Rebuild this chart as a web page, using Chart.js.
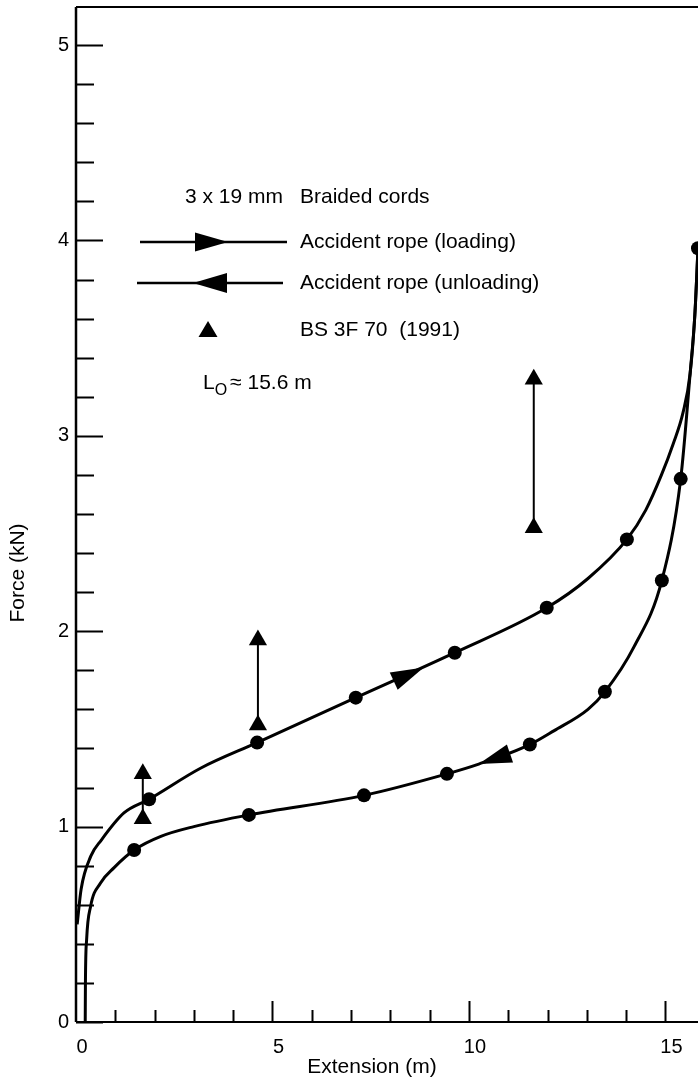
<!DOCTYPE html>
<html>
<head>
<meta charset="utf-8">
<script src="https://cdn.jsdelivr.net/npm/chart.js@4.4.1/dist/chart.umd.min.js"></script>
<style>
html, body { margin: 0; padding: 0; background: #fff; }
canvas { display: block; }
</style>
</head>
<body>
<canvas id="chart" width="698" height="1079"></canvas>
<script>
// Accident rope, 3 x 19 mm braided cords: force vs extension

// Loading curve (traced path) and measured points
const loadingCurveX = [0.03, 0.13, 0.38, 0.64, 1.22, 1.86, 3.18, 4.61, 7.12, 9.64, 11.98, 13.03, 14.02, 14.5, 14.9, 15.2, 15.45, 15.63, 15.75, 15.83];
const loadingCurveY = [0.50, 0.68, 0.85, 0.93, 1.07, 1.14, 1.30, 1.43, 1.66, 1.89, 2.12, 2.27, 2.47, 2.62, 2.80, 2.96, 3.12, 3.32, 3.62, 3.96];
const loadingPointsX = [1.86, 4.61, 7.12, 9.64, 11.98, 14.02, 15.83];
const loadingPointsY = [1.14, 1.43, 1.66, 1.89, 2.12, 2.47, 3.96];

// Unloading curve (traced path) and measured points
const unloadingCurveX = [0.235, 0.24, 0.27, 0.37, 0.62, 0.97, 1.48, 2.16, 3.0, 4.40, 7.33, 9.44, 10.25, 11.55, 12.16, 13.03, 13.46, 14.2, 14.91, 15.39, 15.63, 15.75, 15.83];
const unloadingCurveY = [0.0, 0.20, 0.42, 0.59, 0.71, 0.79, 0.88, 0.95, 1.0, 1.06, 1.16, 1.27, 1.32, 1.42, 1.49, 1.60, 1.69, 1.92, 2.26, 2.78, 3.32, 3.62, 3.96];
const unloadingPointsX = [1.48, 4.40, 7.33, 9.44, 11.55, 13.46, 14.91, 15.39];
const unloadingPointsY = [0.88, 1.06, 1.16, 1.27, 1.42, 1.69, 2.26, 2.78];

// BS 3F 70 (1991) ranges
const bsX = [1.70, 4.63, 11.65];
const bsLow = [1.04, 1.52, 2.53];
const bsHigh = [1.27, 1.955, 3.29];

// direction arrows on the curves: [tail, tip]
const loadingArrowX = [8.09, 8.85];
const loadingArrowY = [1.745, 1.815];
const unloadingArrowX = [11.05, 10.25];
const unloadingArrowY = [1.375, 1.32];

const xTickLabels = [0, 5, 10, 15];
const yTickLabels = [0, 1, 2, 3, 4, 5];

const FONT = "'Liberation Sans', Arial, sans-serif";
Chart.defaults.font.family = FONT;
Chart.defaults.color = '#000';

function toXY(xs, ys) {
    return xs.map((x, i) => ({ x: x, y: ys[i] }));
}

const bsDatasets = bsX.map((x, i) => ({
    type: 'line',
    data: [{ x: x, y: bsLow[i] }, { x: x, y: bsHigh[i] }],
    borderColor: '#000',
    borderWidth: 2,
    pointRadius: 0,
    tension: 0
}));

function drawArrow(ctx, x1, y1, x2, y2, len, half) {
    const a = Math.atan2(y2 - y1, x2 - x1);
    const bx = x2 - Math.cos(a) * len, by = y2 - Math.sin(a) * len;
    ctx.beginPath();
    ctx.moveTo(x2, y2);
    ctx.lineTo(bx - Math.sin(a) * half, by + Math.cos(a) * half);
    ctx.lineTo(bx + Math.sin(a) * half, by - Math.cos(a) * half);
    ctx.closePath();
    ctx.fill();
}

const decor = {
    id: 'decor',
    afterDraw(chart) {
        const ctx = chart.ctx;
        const xs = chart.scales.x, ys = chart.scales.y;
        const area = chart.chartArea;
        ctx.save();
        ctx.fillStyle = '#000';
        ctx.strokeStyle = '#000';

        // axes + top frame
        ctx.lineWidth = 2.5;
        ctx.beginPath();
        ctx.moveTo(area.left, area.top);
        ctx.lineTo(area.left, area.bottom);
        ctx.stroke();
        ctx.lineWidth = 2;
        ctx.beginPath();
        ctx.moveTo(area.left, area.bottom);
        ctx.lineTo(698, area.bottom);
        ctx.moveTo(area.left, area.top);
        ctx.lineTo(698, area.top);
        ctx.stroke();

        // inward ticks
        ctx.lineWidth = 2;
        ctx.beginPath();
        for (let v = 0; v <= 5.01; v += 0.2) {
            const major = Math.abs(v - Math.round(v)) < 0.01;
            const py = Math.round(ys.getPixelForValue(v)) + 0.5;
            ctx.moveTo(area.left, py);
            ctx.lineTo(area.left + (major ? 27 : 18), py);
        }
        for (let v = 1; v <= 15; v++) {
            const major = v % 5 === 0;
            const px = Math.round(xs.getPixelForValue(v)) + 0.5;
            ctx.moveTo(px, area.bottom);
            ctx.lineTo(px, area.bottom - (major ? 21 : 12));
        }
        ctx.stroke();

        // arrows along the curves
        drawArrow(ctx, xs.getPixelForValue(loadingArrowX[0]), ys.getPixelForValue(loadingArrowY[0]),
            xs.getPixelForValue(loadingArrowX[1]), ys.getPixelForValue(loadingArrowY[1]), 33, 9.5);
        drawArrow(ctx, xs.getPixelForValue(unloadingArrowX[0]), ys.getPixelForValue(unloadingArrowY[0]),
            xs.getPixelForValue(unloadingArrowX[1]), ys.getPixelForValue(unloadingArrowY[1]), 33, 9.5);

        // axis titles
        ctx.font = '21px ' + FONT;
        ctx.textAlign = 'center';
        ctx.textBaseline = 'middle';
        ctx.fillText('Extension (m)', 372, 1067);
        ctx.save();
        ctx.translate(18, 573);
        ctx.rotate(-Math.PI / 2);
        ctx.fillText('Force (kN)', 0, 0);
        ctx.restore();

        // key
        ctx.textAlign = 'left';
        ctx.fillText('3 x 19 mm', 185, 197);
        ctx.fillText('Braided cords', 300, 197);

        ctx.lineWidth = 2.5;
        ctx.beginPath();
        ctx.moveTo(140, 242); ctx.lineTo(287, 242);
        ctx.moveTo(137, 283); ctx.lineTo(283, 283);
        ctx.stroke();
        drawArrow(ctx, 195, 242, 228, 242, 33, 9.5);
        drawArrow(ctx, 227, 283, 193, 283, 34, 10);
        ctx.fillText('Accident rope (loading)', 300, 242);
        ctx.fillText('Accident rope (unloading)', 300, 283);

        ctx.beginPath();
        ctx.moveTo(208, 321); ctx.lineTo(217.5, 337); ctx.lineTo(198.5, 337);
        ctx.closePath();
        ctx.fill();
        ctx.fillText('BS 3F 70  (1991)', 300, 330);

        ctx.textBaseline = 'alphabetic';
        let x = 203;
        ctx.fillText('L', x, 389);
        x += ctx.measureText('L').width;
        ctx.font = '16px ' + FONT;
        ctx.fillText('O', x, 395);
        x += ctx.measureText('O').width + 3;
        ctx.font = '21px ' + FONT;
        ctx.fillText('\u2248 15.6 m', x, 389);

        ctx.restore();
    }
};

new Chart(document.getElementById('chart'), {
    type: 'scatter',
    data: {
        datasets: [
            {
                type: 'line',
                data: toXY(loadingCurveX, loadingCurveY),
                borderColor: '#000',
                borderWidth: 3,
                pointRadius: 0,
                cubicInterpolationMode: 'monotone',
                clip: false
            },
            {
                type: 'line',
                data: toXY(unloadingCurveX, unloadingCurveY),
                borderColor: '#000',
                borderWidth: 3,
                pointRadius: 0,
                cubicInterpolationMode: 'monotone',
                clip: false
            },
            ...bsDatasets,
            {
                data: toXY(loadingPointsX, loadingPointsY).concat(toXY(unloadingPointsX, unloadingPointsY)),
                pointStyle: 'circle',
                pointRadius: 7,
                backgroundColor: '#000',
                borderColor: '#000',
                borderWidth: 0,
                clip: false
            },
            {
                data: toXY(bsX, bsLow).concat(toXY(bsX, bsHigh)),
                pointStyle: 'triangle',
                pointRadius: 10.5,
                backgroundColor: '#000',
                borderColor: '#000',
                borderWidth: 0,
                clip: false
            }
        ]
    },
    options: {
        responsive: false,
        animation: false,
        devicePixelRatio: 1,
        layout: { autoPadding: false, padding: { top: 7, right: 0, left: 0, bottom: 0 } },
        plugins: {
            legend: { display: false },
            tooltip: { enabled: false }
        },
        scales: {
            x: {
                type: 'linear',
                min: 0,
                max: 15.83,
                grid: { display: false, drawTicks: false },
                border: { display: false },
                afterFit: s => { s.height = 57; s.paddingLeft = 0; s.paddingRight = 0; },
                afterBuildTicks: s => { s.ticks = xTickLabels.map(v => ({ value: v })); },
                ticks: {
                    font: { size: 20 },
                    color: '#000',
                    padding: 13,
                    labelOffset: 6,
                    maxRotation: 0
                }
            },
            y: {
                type: 'linear',
                min: 0,
                max: 5.195,
                grid: { display: false, drawTicks: false },
                border: { display: false },
                afterFit: s => { s.width = 76; s.paddingTop = 0; s.paddingBottom = 0; },
                afterBuildTicks: s => { s.ticks = yTickLabels.map(v => ({ value: v })); },
                ticks: {
                    font: { size: 20 },
                    color: '#000',
                    padding: 7
                }
            }
        }
    },
    plugins: [decor]
});
</script>
</body>
</html>
